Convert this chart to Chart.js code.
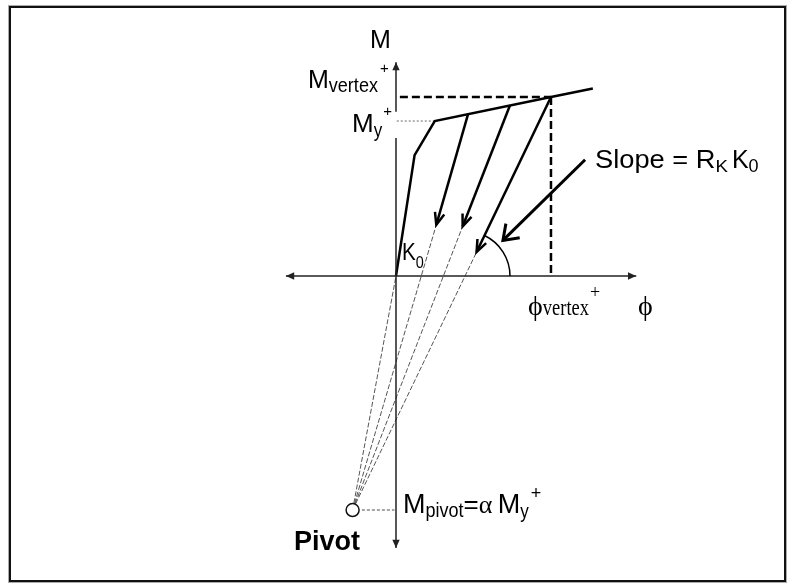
<!DOCTYPE html>
<html>
<head>
<meta charset="utf-8">
<title>Pivot hysteresis model</title>
<script src="https://cdn.jsdelivr.net/npm/chart.js@4.4.1/dist/chart.umd.min.js"></script>
<style>
    html, body { margin: 0; padding: 0; background: #fff; }
    #wrap { width: 794px; height: 588px; }
</style>
</head>
<body>
<div id="wrap"><canvas id="pivotChart" width="794" height="588"></canvas></div>
<script>
// ================================================
// PIVOT MODEL - moment / curvature sketch
// units: M / My+ on y, phi / phi_vertex+ on x
// ================================================

// Visible window of the scales
const phiRange = [-2.555, 2.568];
const mRange = [-2.013, 1.781];

// Axes (the M axis is broken behind the My label)
const phiAxis = [-0.71, 1.55];
const mAxis = [-1.755, 0.89, null, 1.06, 1.38];

// Backbone curve: origin, kink, yield, vertex, end
const backbonePhi = [0, 0.12, 0.25, 1.0, 1.27];
const backboneM = [0, 0.78, 1.0, 1.155, 1.21];

// Unloading branches (start on backbone -> arrow tip)
const unloadStartPhi = [0.465, 0.735, 1.0];
const unloadStartM = [1.045, 1.1, 1.155];
const unloadTipPhi = [0.26, 0.43, 0.52];
const unloadTipM = [0.33, 0.32, 0.155];

// Pivot point
const pivotPhi = -0.28;
const pivotM = -1.51;

// Slope annotation arrow + angle arc
const slopeArrowPhi = [1.22, 0.69];
const slopeArrowM = [0.75, 0.23];
const slopeArcRadius = 0.29;

const SANS = '"Liberation Sans", Arial, sans-serif';
const SERIF = '"Liberation Serif", "Times New Roman", serif';

// Text labels: anchor = left end of baseline (data units), then runs
const textLabels = [
    { phi: -0.168, m: 1.471, runs: [{ t: 'M', size: 25 }] },
    { phi: -0.568, m: 1.213, runs: [
        { t: 'M', size: 25 },
        { t: 'vertex', size: 21, sx: 0.86, dy: 4 },
        { t: '+', size: 15, dx: 2, dy: -15 }
    ] },
    { phi: -0.284, m: 0.929, runs: [
        { t: 'M', size: 26 },
        { t: 'y', size: 20, sx: 0.85, dy: 5 },
        { t: '+', size: 15, dx: 1, dy: -16 }
    ] },
    { phi: 0.039, m: 0.103, runs: [
        { t: 'K', size: 24, sx: 0.86 },
        { t: '0', size: 17, sx: 0.85, dy: 7.5 }
    ] },
    { phi: 1.284, m: 0.697, runs: [
        { t: 'Slope = R', size: 25, sx: 1.09 },
        { t: 'K', size: 17, sx: 1.1, dy: 4 },
        { t: 'K', size: 25, dx: 4 },
        { t: '0', size: 18, dy: 4 }
    ] },
    { phi: 0.852, m: -0.252, runs: [
        { t: '\u03D5', size: 28, serif: true },
        { t: 'vertex', size: 24, sx: 0.77, serif: true },
        { t: '+', size: 18, dx: 1, dy: -17, serif: true }
    ] },
    { phi: 1.561, m: -0.252, runs: [{ t: '\u03D5', size: 28, serif: true }] },
    { phi: 0.045, m: -1.529, runs: [
        { t: 'M', size: 27 },
        { t: 'pivot', size: 20, sx: 0.9, dy: 4 },
        { t: '=', size: 26 },
        { t: '\u03B1', size: 26, serif: true },
        { t: ' M', size: 27, dx: -2 },
        { t: 'y', size: 20, sx: 0.85, dy: 5 },
        { t: '+', size: 18, dx: 2, dy: -14 }
    ] },
    { phi: -0.658, m: -1.768, runs: [{ t: 'Pivot', size: 27, bold: true }] }
];

// ================================================
// DATASETS
// ================================================

function pts(phis, ms) {
    return phis.map((p, i) => ({ x: p, y: ms[i] }));
}

function lineSet(data, color, width, extra) {
    return Object.assign({
        data: data,
        showLine: true,
        fill: false,
        tension: 0,
        borderColor: color,
        borderWidth: width,
        pointRadius: 0,
        borderJoinStyle: 'miter'
    }, extra || {});
}

function buildDatasets() {
    const sets = [];
    const yieldPhi = backbonePhi[2], yieldM = backboneM[2];
    const vertexPhi = backbonePhi[3], vertexM = backboneM[3];

    // pivot marker first so it sits on top of the rays
    sets.push({
        data: [{ x: pivotPhi, y: pivotM }],
        pointRadius: 6.5,
        pointBackgroundColor: '#fff',
        pointBorderColor: '#111',
        pointBorderWidth: 1.5,
        showLine: false
    });

    // axes
    sets.push(lineSet(pts(phiAxis, [0, 0]), '#222', 1.5, { arrows: { start: 'fill', end: 'fill' } }));
    sets.push(lineSet(mAxis.map(m => ({ x: 0, y: m })), '#222', 1.5, { arrows: { start: 'fill', end: 'fill' } }));

    // backbone
    sets.push(lineSet(pts(backbonePhi, backboneM), '#000', 2.5));

    // unloading branches with arrow heads
    unloadStartPhi.forEach((p, i) => {
        sets.push(lineSet([{ x: p, y: unloadStartM[i] }, { x: unloadTipPhi[i], y: unloadTipM[i] }],
            '#000', 2.5, { arrows: { end: 'open', len: 13, angle: 0.38 } }));
    });

    // rays from the pivot (origin + each unloading tip)
    const rayEnds = [{ x: 0, y: 0 }].concat(pts(unloadTipPhi, unloadTipM));
    rayEnds.forEach(e => {
        sets.push(lineSet([{ x: pivotPhi, y: pivotM }, e], '#555', 1, { borderDash: [5, 2] }));
    });

    // vertex reference lines
    sets.push(lineSet([{ x: 0.025, y: vertexM }, { x: vertexPhi, y: vertexM }], '#000', 2.5, { borderDash: [8, 4] }));
    sets.push(lineSet([{ x: vertexPhi, y: vertexM }, { x: vertexPhi, y: 0 }], '#000', 2.5, { borderDash: [8, 4] }));

    // yield and pivot levels
    sets.push(lineSet([{ x: 0.005, y: yieldM }, { x: yieldPhi, y: yieldM }], '#999', 1.5, { borderDash: [2, 2] }));
    sets.push(lineSet([{ x: -0.22, y: pivotM }, { x: -0.01, y: pivotM }], '#888', 1.5, { borderDash: [3, 2] }));

    // slope annotation arrow
    sets.push(lineSet(pts(slopeArrowPhi, slopeArrowM), '#000', 3,
        { arrows: { end: 'open', len: 17, angle: 0.62 } }));

    return sets;
}

// ================================================
// PLUGINS
// ================================================

function drawHead(ctx, tip, from, style, len, angle, color) {
    const ang = Math.atan2(tip.y - from.y, tip.x - from.x);
    const a1 = ang + Math.PI - angle;
    const a2 = ang + Math.PI + angle;
    ctx.beginPath();
    ctx.moveTo(tip.x + len * Math.cos(a1), tip.y + len * Math.sin(a1));
    ctx.lineTo(tip.x, tip.y);
    ctx.lineTo(tip.x + len * Math.cos(a2), tip.y + len * Math.sin(a2));
    if (style === 'fill') {
        ctx.closePath();
        ctx.fillStyle = color;
        ctx.fill();
    } else {
        ctx.stroke();
    }
}

const arrowPlugin = {
    id: 'arrowHeads',
    afterDatasetsDraw(chart) {
        const ctx = chart.ctx;
        chart.data.datasets.forEach((ds, i) => {
            if (!ds.arrows) return;
            const el = chart.getDatasetMeta(i).data.filter(p => !isNaN(p.y));
            if (el.length < 2) return;
            ctx.save();
            ctx.strokeStyle = ds.borderColor;
            ctx.lineWidth = ds.borderWidth;
            ctx.lineJoin = 'miter';
            ctx.lineCap = 'butt';
            const len = ds.arrows.len || 9;
            const angle = ds.arrows.angle || 0.42;
            if (ds.arrows.end) drawHead(ctx, el[el.length - 1], el[el.length - 2], ds.arrows.end, len, angle, ds.borderColor);
            if (ds.arrows.start) drawHead(ctx, el[0], el[1], ds.arrows.start, len, angle, ds.borderColor);
            ctx.restore();
        });
    }
};

// angle arc between the last unloading branch and the phi axis
const arcPlugin = {
    id: 'slopeArc',
    afterDatasetsDraw(chart) {
        const xs = chart.scales.x, ys = chart.scales.y;
        const k = unloadStartPhi.length - 1;
        const sx = xs.getPixelForValue(unloadStartPhi[k]), sy = ys.getPixelForValue(unloadStartM[k]);
        const tx = xs.getPixelForValue(unloadTipPhi[k]), ty = ys.getPixelForValue(unloadTipM[k]);
        const y0 = ys.getPixelForValue(0);
        const cx = sx + (tx - sx) * (y0 - sy) / (ty - sy);
        const r = xs.getPixelForValue(slopeArcRadius) - xs.getPixelForValue(0);
        const a = Math.atan2(sy - y0, sx - cx);
        const ctx = chart.ctx;
        ctx.save();
        ctx.strokeStyle = '#000';
        ctx.lineWidth = 1.5;
        ctx.beginPath();
        ctx.arc(cx, y0, r, a, 0);
        ctx.stroke();
        ctx.restore();
    }
};

const textPlugin = {
    id: 'richLabels',
    afterDraw(chart) {
        const ctx = chart.ctx;
        const xs = chart.scales.x, ys = chart.scales.y;
        ctx.save();
        ctx.fillStyle = '#000';
        ctx.textBaseline = 'alphabetic';
        ctx.textAlign = 'left';
        textLabels.forEach(lbl => {
            let cx = xs.getPixelForValue(lbl.phi);
            const by = ys.getPixelForValue(lbl.m);
            lbl.runs.forEach(r => {
                ctx.font = (r.bold ? 'bold ' : '') + r.size + 'px ' + (r.serif ? SERIF : SANS);
                const sx = r.sx || 1;
                cx += r.dx || 0;
                ctx.save();
                ctx.translate(cx, by + (r.dy || 0));
                ctx.scale(sx, 1);
                ctx.fillText(r.t, 0, 0);
                ctx.restore();
                cx += ctx.measureText(r.t).width * sx;
            });
        });
        ctx.restore();
    }
};

// picture frame
const framePlugin = {
    id: 'frame',
    afterDraw(chart) {
        const ctx = chart.ctx;
        ctx.save();
        ctx.strokeStyle = '#aaa';
        ctx.lineWidth = 1;
        ctx.strokeRect(8.5, 5.5, 778, 577);
        ctx.strokeStyle = '#111';
        ctx.lineWidth = 2;
        ctx.strokeRect(10, 7, 775, 574);
        ctx.restore();
    }
};

// ================================================
// INIT
// ================================================

document.addEventListener('DOMContentLoaded', function() {
    const ctx = document.getElementById('pivotChart');
    new Chart(ctx, {
        type: 'scatter',
        data: { datasets: buildDatasets() },
        options: {
            responsive: false,
            animation: false,
            events: [],
            layout: { padding: 0, autoPadding: false },
            plugins: {
                legend: { display: false },
                tooltip: { enabled: false }
            },
            scales: {
                x: { type: 'linear', min: phiRange[0], max: phiRange[1], display: false },
                y: { type: 'linear', min: mRange[0], max: mRange[1], display: false }
            }
        },
        plugins: [arrowPlugin, arcPlugin, textPlugin, framePlugin]
    });
});
</script>
</body>
</html>
